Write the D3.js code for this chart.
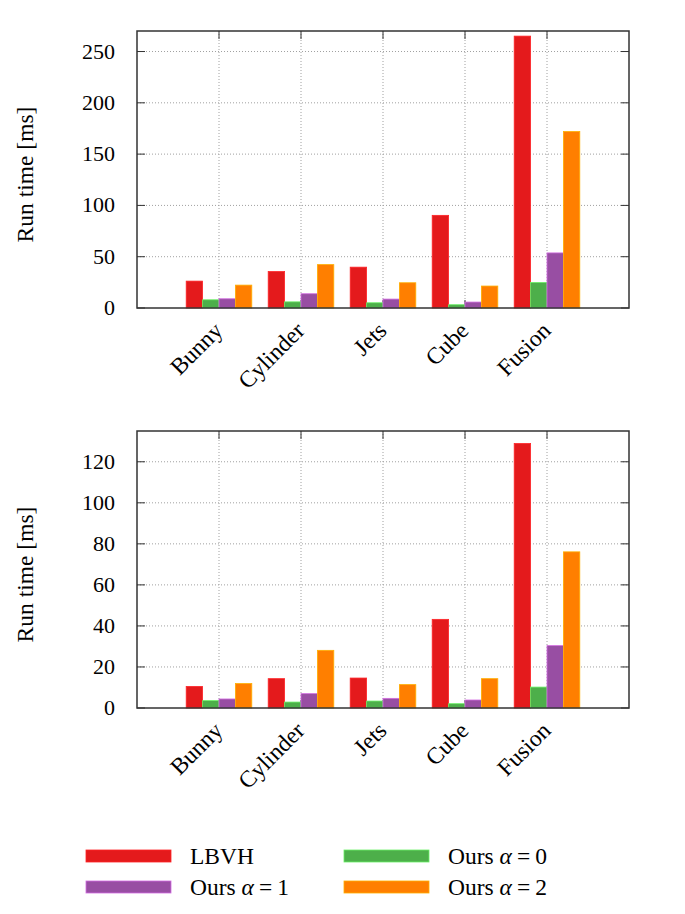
<!DOCTYPE html>
<html>
<head>
<meta charset="utf-8">
<script src="https://cdn.jsdelivr.net/npm/d3@7"></script>
<style>
  body { margin: 0; background: #fff; }
</style>
</head>
<body>
<div id="chart"></div>
<script>
// data
var categories = ["Bunny", "Cylinder", "Jets", "Cube", "Fusion"];
var seriesColors = ["#e41a1c", "#4daf4a", "#984ea3", "#ff7f00"];

// upper panel (ms)
var topLBVH   = [26.2, 35.5, 39.8, 90.3, 265.0];
var topAlpha0 = [8.0, 6.0, 5.1, 3.2, 24.9];
var topAlpha1 = [9.0, 13.9, 8.7, 5.8, 53.7];
var topAlpha2 = [22.3, 42.3, 24.6, 21.4, 172.0];
var topTicks  = [0, 50, 100, 150, 200, 250];

// lower panel (ms)
var botLBVH   = [10.5, 14.3, 14.6, 43.2, 128.9];
var botAlpha0 = [3.6, 2.9, 3.4, 2.1, 10.2];
var botAlpha1 = [4.4, 7.0, 4.7, 3.9, 30.4];
var botAlpha2 = [11.9, 28.1, 11.4, 14.3, 76.1];
var botTicks  = [0, 20, 40, 60, 80, 100, 120];

// legend: label pieces, alpha part gets italic
var legendLabels = [
	{ pre: "LBVH", alpha: "", num: "" },
	{ pre: "Ours ", alpha: "α", num: "0" },
	{ pre: "Ours ", alpha: "α", num: "1" },
	{ pre: "Ours ", alpha: "α", num: "2" }
];

var W = 685, H = 914;
var tickSize = 22;
var fontSize = 23.5;
var serif = "'Liberation Serif', 'Times New Roman', Times, 'DejaVu Serif', serif";

var svg = d3.select("#chart").append("svg")
	.attr("width", W)
	.attr("height", H)
	.attr("font-family", serif)
	.style("font-family", serif);

svg.append("rect").attr("width", W).attr("height", H).attr("fill", "#fff");

function drawPanel(top, bottom, yMax, ticks, series) {
	var x = d3.scaleLinear().domain([-1, 5]).range([137, 629]);
	var y = d3.scaleLinear().domain([0, yMax]).range([bottom, top]);
	var g = svg.append("g");

	// grid
	g.selectAll(".hgrid").data(ticks.filter(function (t) { return t > 0; }))
		.enter().append("line")
		.attr("x1", x(-1)).attr("x2", x(5))
		.attr("y1", function (d) { return y(d); })
		.attr("y2", function (d) { return y(d); })
		.attr("stroke", "#a0a0a0").attr("stroke-width", 1)
		.attr("stroke-dasharray", "1,2");

	g.selectAll(".vgrid").data(d3.range(categories.length))
		.enter().append("line")
		.attr("x1", function (d) { return x(d); })
		.attr("x2", function (d) { return x(d); })
		.attr("y1", top).attr("y2", bottom)
		.attr("stroke", "#a0a0a0").attr("stroke-width", 1)
		.attr("stroke-dasharray", "1,2");

	// ticks, inward on all sides
	ticks.forEach(function (t) {
		g.append("line").attr("x1", x(-1)).attr("x2", x(-1) + 8)
			.attr("y1", y(t)).attr("y2", y(t)).attr("stroke", "#333");
		g.append("line").attr("x1", x(5)).attr("x2", x(5) - 8)
			.attr("y1", y(t)).attr("y2", y(t)).attr("stroke", "#333");
	});
	d3.range(categories.length).forEach(function (i) {
		g.append("line").attr("x1", x(i)).attr("x2", x(i))
			.attr("y1", top).attr("y2", top + 8).attr("stroke", "#333");
		g.append("line").attr("x1", x(i)).attr("x2", x(i))
			.attr("y1", bottom).attr("y2", bottom - 8).attr("stroke", "#333");
	});

	// bars
	var bw = x(0.2) - x(0);
	series.forEach(function (vals, j) {
		g.selectAll(".bar" + j).data(vals)
			.enter().append("rect")
			.attr("x", function (d, i) { return x(i - 0.4 + j * 0.2); })
			.attr("y", function (d) { return y(d); })
			.attr("width", bw)
			.attr("height", function (d) { return bottom - y(d); })
			.attr("fill", seriesColors[j])
			.attr("stroke", d3.color(seriesColors[j]).brighter(0.9))
			.attr("stroke-width", 0.8);
	});

	// frame
	g.append("rect")
		.attr("x", x(-1)).attr("y", top)
		.attr("width", x(5) - x(-1)).attr("height", bottom - top)
		.attr("fill", "none").attr("stroke", "#333").attr("stroke-width", 1.5);

	// y tick labels
	g.selectAll(".ylab").data(ticks)
		.enter().append("text")
		.attr("x", 115)
		.attr("y", function (d) { return y(d) + 7; })
		.attr("text-anchor", "end")
		.attr("font-family", serif)
		.style("font-size", tickSize + "px")
		.text(function (d) { return d; });

	// x tick labels, rotated
	g.selectAll(".xlab").data(categories)
		.enter().append("text")
		.attr("text-anchor", "end")
		.attr("font-family", serif)
		.attr("transform", function (d, i) {
			return "translate(" + (x(i) + 5) + "," + (bottom + 24) + ") rotate(-45)";
		})
		.style("font-size", fontSize + "px")
		.text(function (d) { return d; });

	// y axis title
	g.append("text")
		.attr("text-anchor", "middle")
		.attr("font-family", serif)
		.attr("transform", "translate(33," + ((top + bottom) / 2 + 5) + ") rotate(-90)")
		.style("font-size", fontSize + "px")
		.text("Run time [ms]");
}

drawPanel(31, 308, 270, topTicks, [topLBVH, topAlpha0, topAlpha1, topAlpha2]);
drawPanel(431, 708, 135, botTicks, [botLBVH, botAlpha0, botAlpha1, botAlpha2]);

// legend
var legX = [86, 344];
var legY = [856, 887];
legendLabels.forEach(function (l, k) {
	var lx = legX[k % 2], ly = legY[Math.floor(k / 2)];
	svg.append("rect")
		.attr("x", lx).attr("y", ly - 6)
		.attr("width", 85).attr("height", 12)
		.attr("fill", seriesColors[k])
		.attr("stroke", d3.color(seriesColors[k]).brighter(0.9))
		.attr("stroke-width", 0.8);
	var t = svg.append("text")
		.attr("x", lx + 104).attr("y", ly + 8)
		.attr("font-family", serif)
		.style("font-size", fontSize + "px");
	t.append("tspan").text(l.pre);
	if (l.alpha) {
		t.append("tspan").style("font-style", "italic").text(l.alpha);
		t.append("tspan").attr("dx", 5).text("=");
		t.append("tspan").attr("dx", 5).text(l.num);
	}
});
</script>
</body>
</html>
